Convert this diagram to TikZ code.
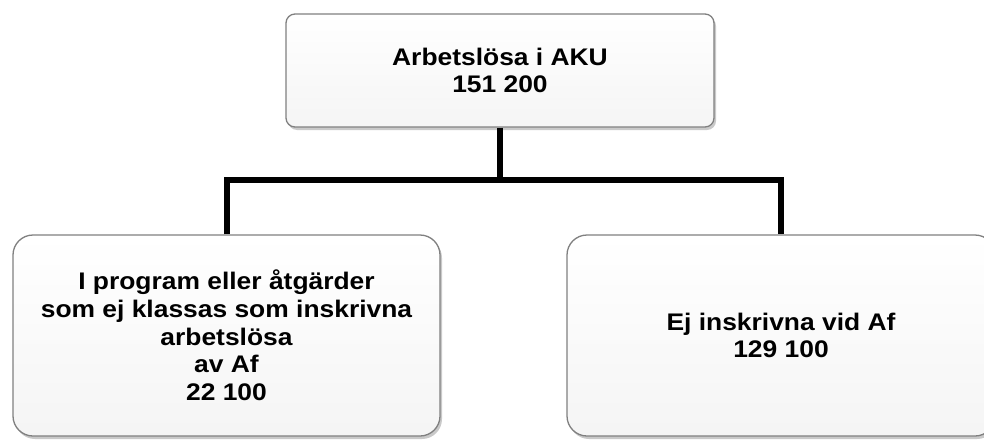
\documentclass[tikz,border=0pt]{standalone}
\usepackage{fontspec}
\setmainfont{Liberation Sans}[FakeStretch=1.1]
\usetikzlibrary{positioning,shadows}

\begin{document}
\begin{tikzpicture}[x=1pt,y=-1pt,
  box/.style={draw=black!50,line width=1.3pt,top color=white,bottom color=black!4,
    align=center,inner sep=0pt,
    font=\fontsize{24}{27.7}\selectfont\bfseries,
    drop shadow={shadow xshift=2pt,shadow yshift=-3pt,opacity=0.3,fill=black!70}},
  conn/.style={line width=6pt,line join=miter}]
  \clip (0,0) rectangle (984,439);
  \node[box,rounded corners=9pt,minimum width=428pt,minimum height=113pt]
    (aku) at (500,70.5) {Arbetslösa i AKU\\151 200};
  \node[box,rounded corners=20pt,minimum width=427pt,minimum height=201pt]
    (prog) at (226.5,335.5) {I program eller åtgärder\\som ej klassas som inskrivna\\arbetslösa\\av Af\\22 100};
  \node[box,rounded corners=20pt,minimum width=428pt,minimum height=201pt]
    (ejinskr) at (781,335.5) {Ej inskrivna vid Af\\129 100};

  \coordinate (fork) at (aku.south |- 0,180);
  \draw[conn] (aku.south) -- (fork);
  \draw[conn] (prog.north) |- (fork) -| (ejinskr.north);
\end{tikzpicture}
\end{document}
